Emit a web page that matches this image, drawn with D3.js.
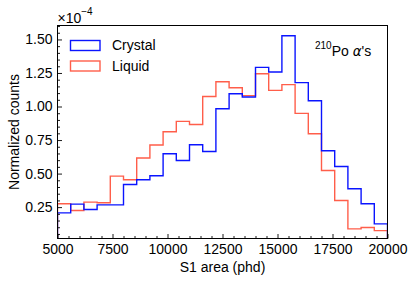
<!DOCTYPE html>
<html>
<head>
<meta charset="utf-8">
<script src="https://cdn.jsdelivr.net/npm/d3@7"></script>
<style>
  html, body { margin: 0; padding: 0; background: #fff; }
  svg { display: block; font-family: "Liberation Sans", Arial, sans-serif; }
</style>
</head>
<body>
<svg id="chart" width="415" height="282"></svg>
<script>
// ---- data (values in units of 1e-4) ----
const binEdges = [5000, 5600, 6200, 6800, 7400, 8000, 8600, 9200, 9800, 10400, 11000, 11600, 12200,
  12800, 13400, 14000, 14600, 15200, 15800, 16400, 17000, 17600, 18200, 18800, 19400, 20000];
const crystal = [0.207, 0.272, 0.232, 0.267, 0.267, 0.419, 0.454, 0.484, 0.648, 0.598, 0.715, 0.665, 0.983,
  1.095, 1.071, 1.292, 1.257, 1.528, 1.178, 1.043, 0.670, 0.553, 0.387, 0.275, 0.125];
const liquid = [0.275, 0.225, 0.287, 0.282, 0.481, 0.454, 0.616, 0.713, 0.812, 0.889, 0.866, 1.075, 1.185,
  1.140, 1.081, 1.244, 1.120, 1.163, 0.949, 0.797, 0.523, 0.299, 0.088, 0.098, 0.075];
const seriesNames = ["Crystal", "Liquid"];
const xTicks = [5000, 7500, 10000, 12500, 15000, 17500, 20000];
const yTicks = [0.25, 0.50, 0.75, 1.00, 1.25, 1.50];
const xDomain = [5000, 20000];
const yDomain = [0.016, 1.604];

const colors = { Crystal: "#0a14ff", Liquid: "#ff5e4a" };

const svg = d3.select("#chart");
const m = { left: 57.5, right: 387.5, top: 25.5, bottom: 238.5 };

const x = d3.scaleLinear().domain(xDomain).range([m.left, m.right]);
const y = d3.scaleLinear().domain(yDomain).range([m.bottom, m.top]);

svg.append("defs").append("clipPath").attr("id", "clip")
  .append("rect").attr("x", m.left).attr("y", m.top)
  .attr("width", m.right - m.left).attr("height", m.bottom - m.top);

function stepPath(vals) {
  const pts = [[x(binEdges[0]), y(0)]];
  vals.forEach((v, i) => {
    pts.push([x(binEdges[i]), y(v)]);
    pts.push([x(binEdges[i + 1]), y(v)]);
  });
  pts.push([x(binEdges[binEdges.length - 1]), y(0)]);
  return d3.line()(pts);
}

const g = svg.append("g").attr("clip-path", "url(#clip)");
[["Liquid", liquid], ["Crystal", crystal]].forEach(([name, vals]) => {
  g.append("path").attr("d", stepPath(vals))
    .attr("fill", "none").attr("stroke", colors[name])
    .attr("stroke-width", 1.4).attr("stroke-linejoin", "miter");
});

// minor ticks
const xMinor = d3.range(5000, 20001, 500).filter(v => !xTicks.includes(v));
const yMinor = d3.range(0.05, 1.6001, 0.05).map(v => +v.toFixed(2)).filter(v => !yTicks.includes(v));

const xAxis = svg.append("g").attr("transform", `translate(0,${m.bottom})`)
  .call(d3.axisBottom(x).tickValues(xTicks).tickFormat(d3.format("d"))
    .tickSizeInner(-4.5).tickSizeOuter(0).tickPadding(6));
svg.append("g").attr("transform", `translate(0,${m.bottom})`)
  .call(d3.axisBottom(x).tickValues(xMinor).tickFormat("").tickSizeInner(-2.5).tickSizeOuter(0))
  .select(".domain").remove();

const yAxis = svg.append("g").attr("transform", `translate(${m.left},0)`)
  .call(d3.axisLeft(y).tickValues(yTicks).tickFormat(d3.format(".2f"))
    .tickSizeInner(-4.5).tickSizeOuter(0).tickPadding(5));
svg.append("g").attr("transform", `translate(${m.left},0)`)
  .call(d3.axisLeft(y).tickValues(yMinor).tickFormat("").tickSizeInner(-2.5).tickSizeOuter(0))
  .select(".domain").remove();

svg.selectAll(".tick text").attr("font-size", 14).attr("fill", "#000")
  .attr("font-family", "'Liberation Sans', Arial, sans-serif");
svg.selectAll(".tick line").attr("stroke", "#000").attr("stroke-width", 0.9);
svg.selectAll(".domain").remove();

// frame
svg.append("rect").attr("x", m.left).attr("y", m.top)
  .attr("width", m.right - m.left).attr("height", m.bottom - m.top)
  .attr("fill", "none").attr("stroke", "#000").attr("stroke-width", 1);

// axis labels
svg.append("text").attr("x", (m.left + m.right) / 2).attr("y", 271.5)
  .attr("text-anchor", "middle").attr("font-size", 14).text("S1 area (phd)");
svg.append("text")
  .attr("transform", `translate(18.5,${(m.top + m.bottom) / 2}) rotate(-90)`)
  .attr("text-anchor", "middle").attr("font-size", 14).text("Normalized counts");

// multiplier
const mult = svg.append("text").attr("x", 57.5).attr("y", 22.5).attr("font-size", 14);
mult.append("tspan").text("×10");
mult.append("tspan").attr("font-size", 10).attr("dy", -8).text("−4");

// legend
const legend = svg.append("g");
seriesNames.forEach((name, i) => {
  const ly = 40.5 + i * 20.5;
  legend.append("rect").attr("x", 70.5).attr("y", ly).attr("width", 29.5).attr("height", 10)
    .attr("fill", "none").attr("stroke", colors[name]).attr("stroke-width", 1.4);
  legend.append("text").attr("x", 112).attr("y", ly + 9.5).attr("font-size", 14).text(name);
});

// annotation
const ann = svg.append("text").attr("x", 315).attr("y", 55.5).attr("font-size", 14);
ann.append("tspan").attr("font-size", 10).attr("dy", -6.5).text("210");
ann.append("tspan").attr("dy", 6.5).text("Po ");
ann.append("tspan").attr("font-style", "italic").attr("font-family", "'DejaVu Sans', sans-serif").attr("font-size", 13.5).text("α");
ann.append("tspan").text("'s");
</script>
</body>
</html>
